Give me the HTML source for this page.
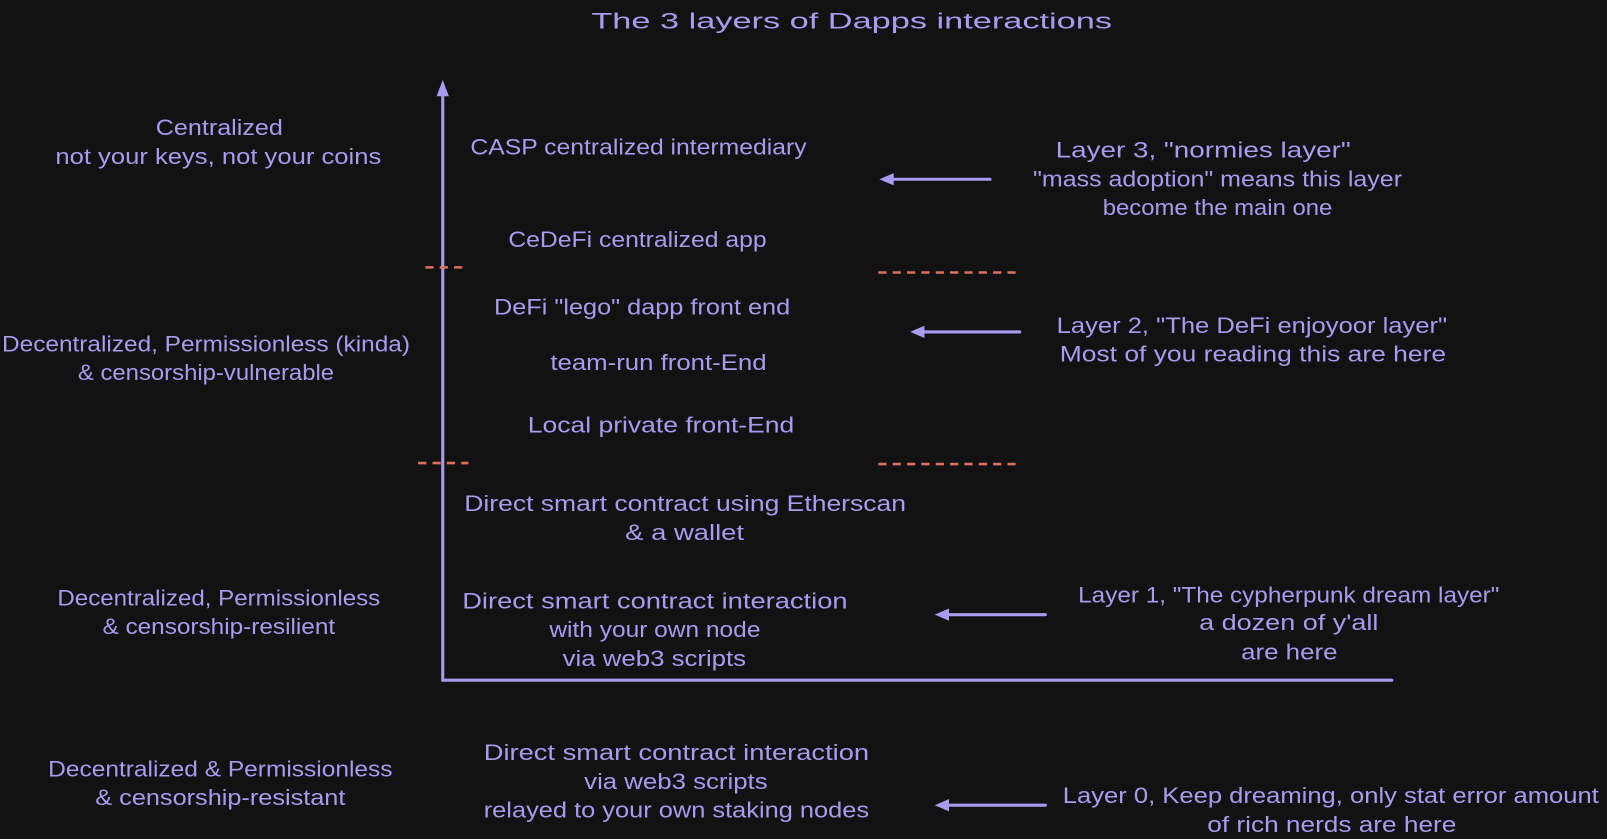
<!DOCTYPE html>
<html><head><meta charset="utf-8"><style>
html,body{margin:0;padding:0;background:#121212;}
svg{display:block}
text{font-family:"Liberation Sans",sans-serif;fill:#a99bef;font-size:22px;}
</style></head><body>
<svg width="1607" height="839" viewBox="0 0 1568 819" preserveAspectRatio="none" xmlns="http://www.w3.org/2000/svg">
<rect width="1568" height="819" fill="#121212"/>
<g stroke="#a99bef" stroke-width="3" fill="none" stroke-linecap="round">
<line x1="432" y1="86" x2="432" y2="664"/>
<line x1="432" y1="664" x2="1358" y2="664"/>
<line x1="966" y1="175" x2="866" y2="175"/>
<line x1="995" y1="324" x2="896" y2="324"/>
<line x1="1020" y1="600" x2="920" y2="600"/>
<line x1="1020" y1="786" x2="920" y2="786"/>
</g>
<g fill="#a99bef">
<polygon points="432,78 426,94 438,94"/>
<polygon points="858,175 872,169 872,181"/>
<polygon points="888,324 902,318 902,330"/>
<polygon points="912,600 926,594 926,606"/>
<polygon points="912,786 926,780 926,792"/>
</g>
<g stroke="#e0705e" stroke-width="2.5" stroke-dasharray="8,6">
<line x1="415" y1="261" x2="455" y2="261"/>
<line x1="408" y1="452" x2="457" y2="452"/>
<line x1="857" y1="266" x2="995" y2="266"/>
<line x1="857" y1="453" x2="995" y2="453"/>
</g>
<g>
<text x="577" y="28" font-size="28" textLength="508" lengthAdjust="spacingAndGlyphs">The 3 layers of Dapps interactions</text>

<text x="152" y="132" textLength="124" lengthAdjust="spacingAndGlyphs">Centralized</text>
<text x="54" y="160" textLength="318" lengthAdjust="spacingAndGlyphs">not your keys, not your coins</text>
<text x="2" y="343" textLength="398" lengthAdjust="spacingAndGlyphs">Decentralized, Permissionless (kinda)</text>
<text x="76" y="371" textLength="250" lengthAdjust="spacingAndGlyphs">&amp; censorship-vulnerable</text>
<text x="56" y="591" textLength="315" lengthAdjust="spacingAndGlyphs">Decentralized, Permissionless</text>
<text x="100" y="619" textLength="227" lengthAdjust="spacingAndGlyphs">&amp; censorship-resilient</text>
<text x="47" y="758" textLength="336" lengthAdjust="spacingAndGlyphs">Decentralized &amp; Permissionless</text>
<text x="93" y="786" textLength="244" lengthAdjust="spacingAndGlyphs">&amp; censorship-resistant</text>

<text x="459" y="151" textLength="328" lengthAdjust="spacingAndGlyphs">CASP centralized intermediary</text>
<text x="496" y="241" textLength="252" lengthAdjust="spacingAndGlyphs">CeDeFi centralized app</text>
<text x="482" y="307" textLength="289" lengthAdjust="spacingAndGlyphs">DeFi "lego" dapp front end</text>
<text x="537" y="361" textLength="211" lengthAdjust="spacingAndGlyphs">team-run front-End</text>
<text x="515" y="422" textLength="260" lengthAdjust="spacingAndGlyphs">Local private front-End</text>
<text x="453" y="499" textLength="431" lengthAdjust="spacingAndGlyphs">Direct smart contract using Etherscan</text>
<text x="610" y="527" textLength="116" lengthAdjust="spacingAndGlyphs">&amp; a wallet</text>
<text x="451" y="594" textLength="376" lengthAdjust="spacingAndGlyphs">Direct smart contract interaction</text>
<text x="536" y="622" textLength="206" lengthAdjust="spacingAndGlyphs">with your own node</text>
<text x="549" y="650" textLength="179" lengthAdjust="spacingAndGlyphs">via web3 scripts</text>
<text x="472" y="742" textLength="376" lengthAdjust="spacingAndGlyphs">Direct smart contract interaction</text>
<text x="570" y="770" textLength="179" lengthAdjust="spacingAndGlyphs">via web3 scripts</text>
<text x="472" y="798" textLength="376" lengthAdjust="spacingAndGlyphs">relayed to your own staking nodes</text>

<text x="1030" y="154" textLength="288" lengthAdjust="spacingAndGlyphs">Layer 3, "normies layer"</text>
<text x="1008" y="182" textLength="360" lengthAdjust="spacingAndGlyphs">"mass adoption" means this layer</text>
<text x="1076" y="210" textLength="224" lengthAdjust="spacingAndGlyphs">become the main one</text>
<text x="1031" y="325" textLength="381" lengthAdjust="spacingAndGlyphs">Layer 2, "The DeFi enjoyoor layer"</text>
<text x="1034" y="353" textLength="377" lengthAdjust="spacingAndGlyphs">Most of you reading this are here</text>
<text x="1052" y="588" textLength="411" lengthAdjust="spacingAndGlyphs">Layer 1, "The cypherpunk dream layer"</text>
<text x="1170" y="615" textLength="175" lengthAdjust="spacingAndGlyphs">a dozen of y'all</text>
<text x="1211" y="644" textLength="94" lengthAdjust="spacingAndGlyphs">are here</text>
<text x="1037" y="784" textLength="523" lengthAdjust="spacingAndGlyphs">Layer 0, Keep dreaming, only stat error amount</text>
<text x="1178" y="812" textLength="243" lengthAdjust="spacingAndGlyphs">of rich nerds are here</text>
</g>
</svg>
</body></html>
